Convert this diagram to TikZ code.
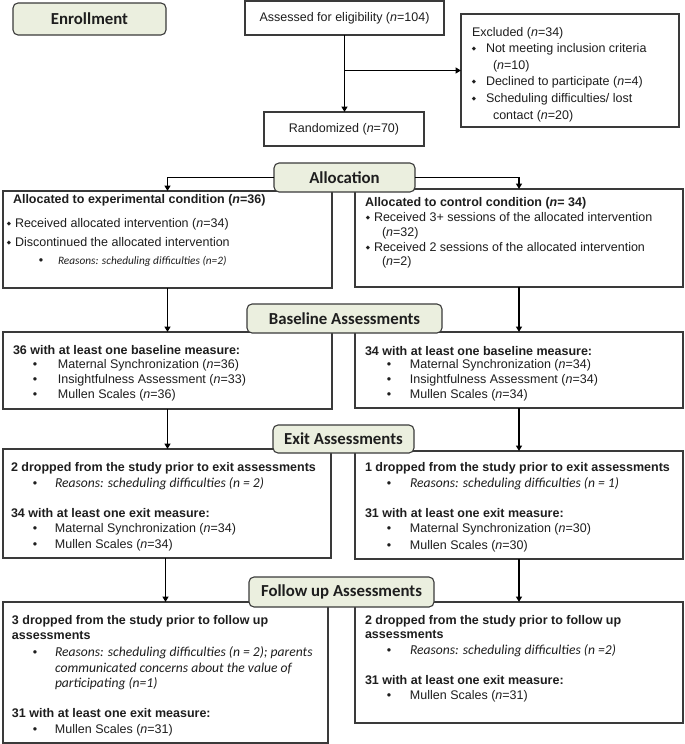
\documentclass[tikz,border=0pt]{standalone}
\usepackage{fontspec}
\setmainfont{Liberation Sans}
\newfontfamily\calfont{Carlito}
\newfontfamily\djv{DejaVu Sans}
\usetikzlibrary{arrows.meta}
\definecolor{hdrfill}{HTML}{EBEFDF}
\definecolor{edge}{HTML}{3A3A3A}
\definecolor{ink}{HTML}{1E1E1E}
\newcommand\hdrfont{\calfont\bfseries\fontsize{16.8}{18}\selectfont}
\newcommand\itc[1]{{\calfont\itshape\fontsize{13.6}{15}\selectfont #1}}
\newcommand\itcs[1]{{\calfont\itshape\fontsize{11.3}{13}\selectfont #1}}
\newcommand\dmd{\makebox[4pt][c]{\raisebox{1.2pt}{\djv\fontsize{5.5}{5.5}\selectfont ◆}}}
\newcommand\dotb{\makebox[4pt][c]{•}}
\newcommand\LineT[4]{\node[lt] (#1) at (#2,#3+4) {#4};}
\newcommand\DiaT[5]{\node[lt] (#1) at (#3,#4+4) {\llap{\dmd\hspace*{\dimexpr #3pt-#2pt-2pt\relax}}#5};}
\newcommand\DotT[5]{\node[lt] (#1) at (#3,#4+4) {\llap{\dotb\hspace*{\dimexpr #3pt-#2pt-2pt\relax}}#5};}
\tikzset{
 box/.style={draw=edge, line width=1.1pt, rectangle, inner sep=0pt, outer sep=0pt, fill=white, text=ink, font=\fontsize{12.5}{15}\selectfont},
 hdr/.style={draw=edge, line width=1.1pt, rounded corners=5pt, fill=hdrfill, inner sep=0pt, outer sep=0pt, font=\hdrfont, text=ink},
 arr/.style={line width=1.4pt, -{Triangle[width=6pt,length=5.5pt]}},
 lt/.style={anchor=base west, inner sep=0pt, outer sep=0pt, text=ink, font=\fontsize{12.5}{15}\selectfont},
}
\begin{document}
\begin{tikzpicture}[x=1pt,y=-1pt]
\useasboundingbox (0,0) rectangle (685,744);
% plain boxes
\node[box, minimum width=199, minimum height=34] (assess) at (344.5,18) {Assessed for eligibility (\textit{n}=104)};
\node[box, minimum width=160, minimum height=34] (rand) at (344,129) {Randomized (\textit{n}=70)};
\node[box, minimum width=218, minimum height=113] (excl) at (570,70.5) {};
\node[box, minimum width=329, minimum height=97] (exper) at (167.5,239.5) {};
\node[box, minimum width=328, minimum height=98] (ctrl) at (519,238) {};
\node[box, minimum width=329, minimum height=77] (baseL) at (167.5,370.5) {};
\node[box, minimum width=328, minimum height=76] (baseR) at (519,370) {};
\node[box, minimum width=328, minimum height=109] (exitL) at (167,503.5) {};
\node[box, minimum width=328, minimum height=108] (exitR) at (519,505) {};
\node[box, minimum width=325, minimum height=141] (folL) at (165.5,672.5) {};
\node[box, minimum width=328, minimum height=121] (folR) at (519,662.5) {};
% connectors
\draw[arr] (assess.south) -- (assess.south |- rand.north);
\coordinate (brk) at (assess.south |- excl.west);
\draw[arr] (brk) -- (excl.west);
% headers
\node[hdr, minimum width=153, minimum height=32] (enroll) at (89.5,19) {Enrollment};
\node[hdr, minimum width=141, minimum height=29] (alloc) at (344.5,177.5) {Allocation};
\node[hdr, minimum width=195, minimum height=29] (basehdr) at (344.5,318.5) {Baseline Assessments};
\node[hdr, minimum width=141, minimum height=28] (exithdr) at (343.5,439) {Exit Assessments};
\node[hdr, minimum width=185, minimum height=30] (folhdr) at (341.5,592) {Follow up Assessments};
\draw[arr] (alloc.west) -| (exper.north);
\draw[arr] (alloc.east) -| (ctrl.north);
\draw[arr] (exper.south) -- (baseL.north);
\draw[arr] (ctrl.south) -- (baseR.north);
\draw[arr] (baseL.south) -- (baseL.south |- exitL.north);
\draw[arr] (baseR.south) -- (exitR.north);
\draw[arr] (folL.north |- exitL.south) -- (folL.north);
\draw[arr] (exitR.south) -- (folR.north);
% Excluded
\LineT{ex0}{472}{32}{Excluded (\textit{n}=34)}
\DiaT{ex1}{474}{486}{48}{Not meeting inclusion criteria}
\LineT{ex2}{493}{65}{(\textit{n}=10)}
\DiaT{ex3}{474}{486}{81}{Declined to participate (\textit{n}=4)}
\DiaT{ex4}{474}{486}{98}{Scheduling difficulties/ lost}
\LineT{ex5}{493}{115}{contact (\textit{n}=20)}
% experimental
\LineT{ea0}{13}{199}{\bfseries Allocated to experimental condition (\textit{n}=36)}
\DiaT{ea1}{9}{15}{223}{Received allocated intervention (\textit{n}=34)}
\DiaT{ea2}{9}{15}{242}{Discontinued the allocated intervention}
\DotT{ea3}{41}{58}{260}{\itcs{Reasons: scheduling difficulties (n=2)}}
% control
\LineT{ca0}{365}{202}{\bfseries Allocated to control condition (\textit{n}= 34)}
\DiaT{ca1}{368}{374}{217}{Received 3+ sessions of the allocated intervention}
\LineT{ca2}{382}{232}{(\textit{n}=32)}
\DiaT{ca3}{368}{374}{247}{Received 2 sessions of the allocated intervention}
\LineT{ca4}{382}{261}{(\textit{n}=2)}
% baseline
\LineT{bl0}{13}{350}{\bfseries 36 with at least one baseline measure:}
\DotT{bl1}{35}{58}{364}{Maternal Synchronization (\textit{n}=36)}
\DotT{bl2}{35}{58}{379}{Insightfulness Assessment (\textit{n}=33)}
\DotT{bl3}{35}{58}{394}{Mullen Scales (\textit{n}=36)}
\LineT{br0}{365}{351}{\bfseries 34 with at least one baseline measure:}
\DotT{br1}{389}{410}{364}{Maternal Synchronization (\textit{n}=34)}
\DotT{br2}{389}{410}{379}{Insightfulness Assessment (\textit{n}=34)}
\DotT{br3}{389}{410}{394}{Mullen Scales (\textit{n}=34)}
% exit
\LineT{xl0}{11}{467}{\bfseries 2 dropped from the study prior to exit assessments}
\DotT{xl1}{35}{55}{483}{\itc{Reasons: scheduling difficulties (n = 2)}}
\LineT{xl2}{11}{513}{\bfseries 34 with at least one exit measure:}
\DotT{xl3}{35}{55}{528}{Maternal Synchronization (\textit{n}=34)}
\DotT{xl4}{35}{55}{544}{Mullen Scales (\textit{n}=34)}
\LineT{xr0}{365}{467}{\bfseries 1 dropped from the study prior to exit assessments}
\DotT{xr1}{389}{410}{483}{\itc{Reasons: scheduling difficulties (n = 1)}}
\LineT{xr2}{365}{513}{\bfseries 31 with at least one exit measure:}
\DotT{xr3}{389}{410}{528}{Maternal Synchronization (\textit{n}=30)}
\DotT{xr4}{389}{410}{545}{Mullen Scales (\textit{n}=30)}
% follow up
\LineT{fl0}{12}{620}{\bfseries 3 dropped from the study prior to follow up}
\LineT{fl1}{12}{635}{\bfseries assessments}
\DotT{fl2}{35}{55}{652}{\itc{Reasons: scheduling difficulties (n = 2); parents}}
\LineT{fl3}{55}{668}{\itc{communicated concerns about the value of}}
\LineT{fl4}{55}{683}{\itc{participating (n=1)}}
\LineT{fl5}{12}{713}{\bfseries 31 with at least one exit measure:}
\DotT{fl6}{35}{55}{729}{Mullen Scales (\textit{n}=31)}
\LineT{fr0}{365}{620}{\bfseries 2 dropped from the study prior to follow up}
\LineT{fr1}{365}{634}{\bfseries assessments}
\DotT{fr2}{389}{410}{650}{\itc{Reasons: scheduling difficulties (n =2)}}
\LineT{fr3}{365}{680}{\bfseries 31 with at least one exit measure:}
\DotT{fr4}{389}{410}{695}{Mullen Scales (\textit{n}=31)}
\end{tikzpicture}
\end{document}
